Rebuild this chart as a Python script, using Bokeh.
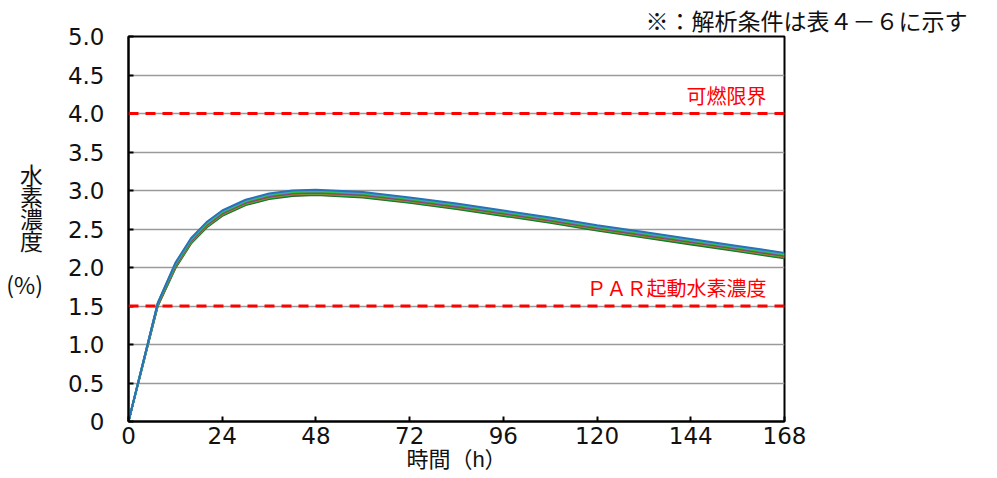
from bokeh.plotting import figure
from bokeh.models import Range1d, FixedTicker, NumeralTickFormatter, Span, Label
from bokeh.embed import file_html
from bokeh.resources import INLINE

# ---- data ----
hours = [0, 7.5, 12, 16, 20, 24, 30, 36, 42, 48, 60, 72, 84, 96, 108, 120, 132, 144, 156, 168]
case_blue = [0, 1.54, 2.06, 2.38, 2.59, 2.74, 2.88, 2.96, 3.00, 3.01, 2.98, 2.91, 2.83, 2.74, 2.65, 2.55, 2.46, 2.37, 2.28, 2.19]
case_cyan = [0, 1.54, 2.05, 2.37, 2.58, 2.73, 2.87, 2.95, 2.99, 3.00, 2.97, 2.90, 2.82, 2.73, 2.64, 2.54, 2.45, 2.36, 2.27, 2.18]
case_lime = [0, 1.53, 2.04, 2.36, 2.57, 2.72, 2.86, 2.94, 2.98, 2.99, 2.96, 2.89, 2.81, 2.72, 2.63, 2.53, 2.44, 2.35, 2.26, 2.17]
case_purple = [0, 1.53, 2.03, 2.35, 2.56, 2.71, 2.85, 2.93, 2.97, 2.98, 2.95, 2.88, 2.80, 2.71, 2.62, 2.52, 2.43, 2.34, 2.25, 2.16]
case_red = [0, 1.52, 2.02, 2.34, 2.55, 2.70, 2.84, 2.92, 2.96, 2.97, 2.94, 2.87, 2.79, 2.70, 2.61, 2.51, 2.42, 2.33, 2.24, 2.15]
case_olive = [0, 1.52, 2.01, 2.33, 2.54, 2.69, 2.83, 2.91, 2.95, 2.96, 2.93, 2.86, 2.78, 2.69, 2.60, 2.50, 2.41, 2.32, 2.23, 2.14]
case_green = [0, 1.51, 2.00, 2.32, 2.53, 2.68, 2.82, 2.90, 2.94, 2.95, 2.92, 2.85, 2.77, 2.68, 2.59, 2.49, 2.40, 2.31, 2.22, 2.13]
case_dark = [0, 1.50, 1.99, 2.31, 2.52, 2.67, 2.81, 2.89, 2.93, 2.94, 2.91, 2.84, 2.76, 2.67, 2.58, 2.48, 2.39, 2.30, 2.21, 2.12]

series = [
    (case_dark, "#2F5F2F"),
    (case_green, "#00A030"),
    (case_olive, "#8E9A3A"),
    (case_red, "#A0423C"),
    (case_purple, "#7A4FA0"),
    (case_lime, "#22CC22"),
    (case_cyan, "#3FA9C9"),
    (case_blue, "#2A72B8"),
]

x_ticks = [0, 24, 48, 72, 96, 120, 144, 168]
y_ticks = [0, 0.5, 1.0, 1.5, 2.0, 2.5, 3.0, 3.5, 4.0, 4.5, 5.0]
flammability_limit = 4.0
par_start = 1.5

FONT = "DejaVu Sans"
JP = "Noto Sans CJK JP"
JP_COMPACT = "Liberation Sans, Noto Sans CJK JP"

p = figure(width=990, height=478, output_backend="svg", toolbar_location=None,
           x_range=Range1d(0, 168), y_range=Range1d(0, 5),
           min_border_left=128, min_border_right=206, min_border_top=36, min_border_bottom=57)
p.background_fill_color = "white"
p.border_fill_color = "white"
p.outline_line_color = "black"
p.outline_line_width = 2

# note at top right (as title)
p.title.text = "※：解析条件は表４－６に示す"
p.title.align = "left"
p.title.offset = 517
p.title.text_font = JP
p.title.text_font_size = "23px"
p.title.text_font_style = "normal"
p.title.text_color = "#111111"
p.title.standoff = 0

p.xgrid.grid_line_color = None
p.ygrid.grid_line_color = "#9A9A9A"
p.ygrid.grid_line_width = 1.5

for ax in (p.xaxis[0], p.yaxis[0]):
    ax.axis_line_color = "black"
    ax.axis_line_width = 2
    ax.major_tick_line_color = "black"
    ax.major_tick_line_width = 2
    ax.major_tick_in = 5
    ax.major_tick_out = 0
    ax.minor_tick_line_color = None
    ax.major_label_text_font = FONT
    ax.major_label_text_font_size = "23px"
    ax.major_label_text_color = "#111111"

xa = p.xaxis[0]
xa.ticker = FixedTicker(ticks=x_ticks)
xa.major_label_standoff = 5
xa.axis_label = "時間（h）"
xa.axis_label_text_font = JP_COMPACT
xa.axis_label_text_font_size = "22px"
xa.axis_label_text_font_style = "normal"
xa.axis_label_text_color = "#111111"
xa.axis_label_standoff = 0

ya = p.yaxis[0]
ya.ticker = FixedTicker(ticks=y_ticks)
ya.formatter = NumeralTickFormatter(format="0.0")
ya.major_label_overrides = {0: "0"}
ya.major_label_standoff = 24
ya.axis_label = "水\n素\n濃\n度\n\n(%)"
ya.axis_label_orientation = "horizontal"
ya.axis_label_text_font = JP
ya.axis_label_text_font_size = "23px"
ya.axis_label_text_font_style = "normal"
ya.axis_label_text_color = "#111111"
ya.axis_label_text_line_height = 0.65
ya.axis_label_standoff = 22

for vals, col in series:
    p.line(hours, vals, line_color=col, line_width=2)

for lvl in (flammability_limit, par_start):
    p.add_layout(Span(location=lvl, dimension="width", line_color="#FF0000",
                      line_width=3, line_dash="10 7"))

p.add_layout(Label(x=163.4, y=4.23, text="可燃限界", text_align="right", text_baseline="middle",
                   text_font=JP, text_font_size="20px", text_color="#FF0000"))
p.add_layout(Label(x=163.4, y=1.74, text="ＰＡＲ起動水素濃度", text_align="right", text_baseline="middle",
                   text_font=JP, text_font_size="20px", text_color="#FF0000"))

open("out.html", "w").write(file_html(p, INLINE))
